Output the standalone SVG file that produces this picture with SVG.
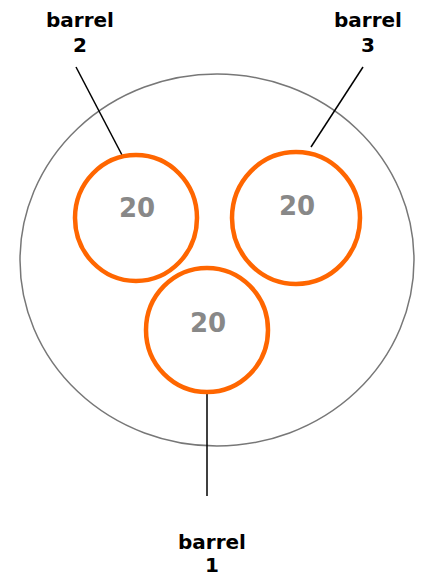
<svg xmlns="http://www.w3.org/2000/svg" width="423" height="579" viewBox="0 0 423 579">
<style>
.lbl{font-family:"DejaVu Sans",Verdana,sans-serif;font-weight:bold;font-size:20px;fill:#000;text-anchor:middle}
.num{font-family:"DejaVu Sans",Verdana,sans-serif;font-weight:bold;font-size:26px;fill:#888;text-anchor:middle}
.barrel{fill:#fff;stroke:#FF6600;stroke-width:4.5}
.conn{stroke:#000;stroke-width:1.5;fill:none}
</style>
<rect width="423" height="579" fill="#fff"/>
<g id="outer">
<ellipse cx="217" cy="260" rx="197" ry="186" fill="none" stroke="#777" stroke-width="1.5"/>
</g>
<g id="connectors">
<line class="conn" x1="76" y1="67" x2="122" y2="155"/>
<line class="conn" x1="363" y1="67" x2="311" y2="147"/>
<line class="conn" x1="207" y1="394" x2="207" y2="496"/>
</g>
<g id="barrel2">
<ellipse class="barrel" cx="136" cy="218" rx="61" ry="63"/>
<text class="num" x="137" y="217">20</text>
</g>
<g id="barrel3">
<ellipse class="barrel" cx="296" cy="218" rx="64" ry="66"/>
<text class="num" x="297" y="215">20</text>
</g>
<g id="barrel1">
<ellipse class="barrel" cx="207" cy="330" rx="61" ry="62"/>
<text class="num" x="208" y="332">20</text>
</g>
<g id="label2">
<text class="lbl" x="80" y="27">barrel</text>
<text class="lbl" x="80" y="52">2</text>
</g>
<g id="label3">
<text class="lbl" x="368" y="27">barrel</text>
<text class="lbl" x="368" y="52">3</text>
</g>
<g id="label1">
<text class="lbl" x="212" y="549">barrel</text>
<text class="lbl" x="212" y="572">1</text>
</g>
</svg>
